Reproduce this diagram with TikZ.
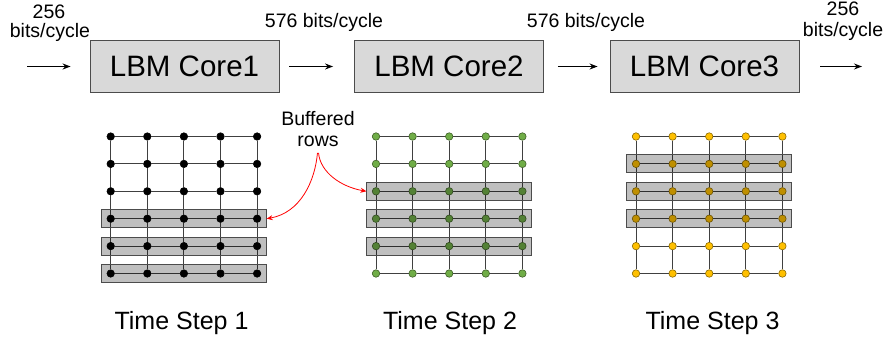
\documentclass[tikz,border=0pt]{standalone}
\usepackage{fontspec}
\setmainfont{Liberation Sans}
\usetikzlibrary{fit, arrows.meta}
\definecolor{coreGray}{RGB}{217,217,217}
\definecolor{dotGreen}{RGB}{112,173,71}
\definecolor{dotGold}{RGB}{255,192,0}

\begin{document}
\begin{tikzpicture}[x=1pt, y=-1pt,
    core/.style={draw=black!70, line width=0.9pt, fill=coreGray, minimum width=189pt,
        minimum height=52pt, font=\fontsize{29.5}{32}\selectfont},
    rate/.style={font=\fontsize{19.5}{21}\selectfont, inner sep=0pt},
    stepLabel/.style={font=\fontsize{25}{28}\selectfont, inner sep=0pt},
    flow/.style={-{Stealth[length=8pt, width=6pt]}, line width=1.1pt},
    dot/.style={circle, draw=#1!55!black, line width=0.6pt, fill=#1, inner sep=0pt, minimum size=7.5pt},
    gridLine/.style={draw=black!75, line width=0.9pt},
    bufRow/.style={draw=black!70, line width=1pt, fill=black, fill opacity=0.25, inner sep=5pt},
    redArrow/.style={-{Stealth[length=6pt, width=5pt]}, draw=red, line width=0.8pt, shorten <=6pt}]
    \useasboundingbox (0,0) rectangle (885,343);

    \node[core] (c1) at (184.5,66.5) {LBM Core1};
    \node[core] (c2) at (449,66.5) {LBM Core2};
    \node[core] (c3) at (704.5,66.5) {LBM Core3};
    \coordinate (feedIn) at (27,66.5);
    \coordinate (feedOut) at (862,66.5);
    \draw[flow] (feedIn) -- ([xshift=-19pt]c1.west);
    \draw[flow] ([xshift=10pt]c1.east) -- ([xshift=-21pt]c2.west);
    \draw[flow] ([xshift=14pt]c2.east) -- ([xshift=-12pt]c3.west);
    \draw[flow] ([xshift=21pt]c3.east) -- (feedOut);

    \node[rate] (inRate) at (49,11.5) {256};
    \node[rate] (inUnit) at (50,32.5) {bits/cycle};
    \node[rate] (rate12) at (324,22.5) {576 bits/cycle};
    \node[rate] (rate23) at (586,22.5) {576 bits/cycle};
    \node[rate] (outRate) at (843,8.5) {256};
    \node[rate] (outUnit) at (843,31.5) {bits/cycle};

    \foreach \g/\x/\c in {1/110.7/black, 2/376/dotGreen, 3/636/dotGold}
        \foreach \i in {0,...,4}
            \foreach \j in {0,...,5}
                \node[dot=\c] (g\g-\i-\j) at (\x+36.6*\i, 136.5+27.4*\j) {};
    \foreach \g in {1,2,3} {
        \foreach \j in {0,...,5}
            \foreach \i [count=\k from 1] in {0,...,3}
                \draw[gridLine] (g\g-\i-\j) -- (g\g-\k-\j);
        \foreach \i in {0,...,4}
            \foreach \j [count=\k from 1] in {0,...,4}
                \draw[gridLine] (g\g-\i-\j) -- (g\g-\i-\k);
    }
    \foreach \g/\a/\b in {1/3/5, 2/2/4, 3/1/3}
        \foreach \j in {\a,...,\b}
            \node[bufRow, fit=(g\g-0-\j)(g\g-4-\j)] (b\g-\j) {};

    \node[rate, align=center] (buf) at (318,129) {Buffered\\rows};
    \draw[redArrow] (buf.south) to[out=-95, in=10] (b1-3.east);
    \draw[redArrow] (buf.south) to[out=-85, in=170] (b2-2.west);

    \node[stepLabel] (step1) at (181.5,323.5) {Time Step 1};
    \node[stepLabel] (step2) at (450,323.5) {Time Step 2};
    \node[stepLabel] (step3) at (712.5,323.5) {Time Step 3};
\end{tikzpicture}
\end{document}
